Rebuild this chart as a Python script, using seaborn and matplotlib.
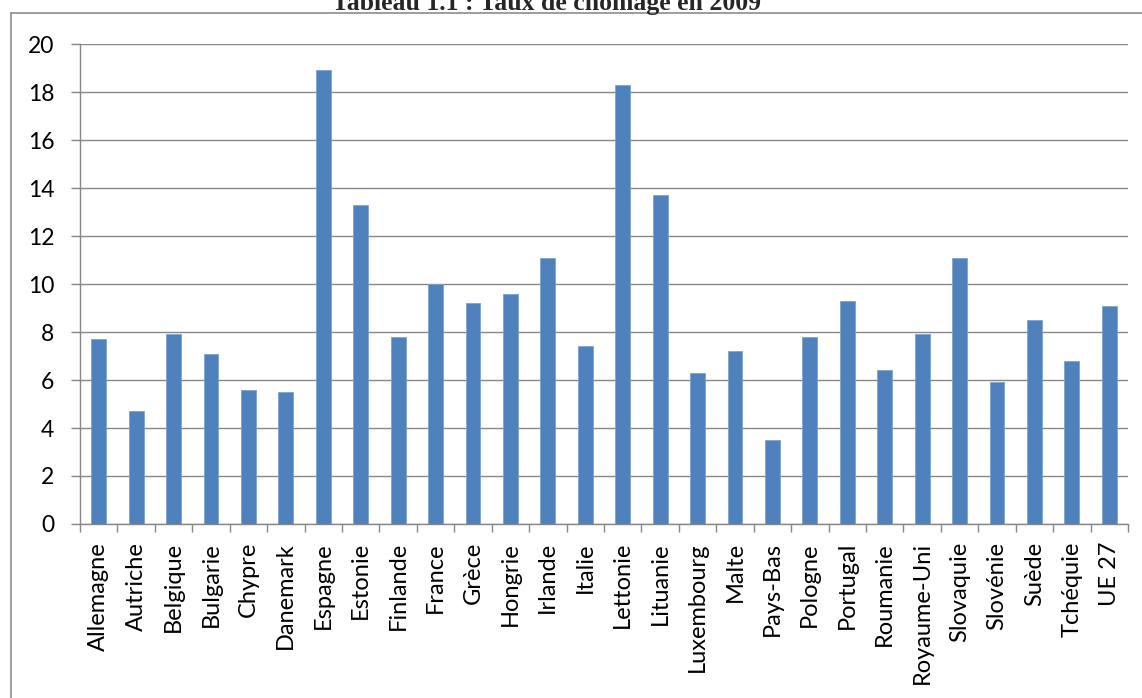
import matplotlib
matplotlib.use("Agg")
import matplotlib.pyplot as plt
from matplotlib.lines import Line2D
import seaborn as sns
import pandas as pd
import numpy as np

# Unemployment rate by country, 2009 (%)
pays = ["Allemagne", "Autriche", "Belgique", "Bulgarie", "Chypre", "Danemark",
        "Espagne", "Estonie", "Finlande", "France", "Grèce", "Hongrie", "Irlande",
        "Italie", "Lettonie", "Lituanie", "Luxembourg", "Malte", "Pays-Bas",
        "Pologne", "Portugal", "Roumanie", "Royaume-Uni", "Slovaquie", "Slovénie",
        "Suède", "Tchéquie", "UE 27"]
taux = [7.7, 4.7, 7.9, 7.1, 5.6, 5.5,
        18.9, 13.3, 7.8, 10.0, 9.2, 9.6, 11.1,
        7.4, 18.3, 13.7, 6.3, 7.2, 3.5,
        7.8, 9.3, 6.4, 7.9, 11.1, 5.9,
        8.5, 6.8, 9.1]
y_ticks = [0, 2, 4, 6, 8, 10, 12, 14, 16, 18, 20]
titre = "Tableau 1.1 : Taux de chômage en 2009"

df = pd.DataFrame({"pays": pays, "taux": taux})

sns.set_theme(style="white")
plt.rcParams["font.family"] = ["Lato", "DejaVu Sans"]

W, H = 1142, 698
fig = plt.figure(figsize=(W / 100, H / 100), dpi=100)
fig.patch.set_facecolor("white")

left, right, top, bottom = 80, 1128, 44, 524
ax = fig.add_axes([left / W, 1 - bottom / H, (right - left) / W, (bottom - top) / H])

grid_col = "#878787"
sns.barplot(data=df, x="pays", y="taux", color="#4F81BD", saturation=1,
            width=0.4, edgecolor="#7FA2CF", linewidth=0.6, ax=ax, zorder=3)

ax.set_ylim(0, 20)
ax.set_xlim(-0.5, len(pays) - 0.5)
ax.set_yticks(y_ticks)
ax.set_yticklabels([str(v) for v in y_ticks])
ax.yaxis.grid(True, color=grid_col, linewidth=1.0, zorder=0)
ax.set_axisbelow(True)
ax.set_xlabel("")
ax.set_ylabel("")

# category labels at bar centres, tick marks between categories
ax.set_xticks(np.arange(len(pays)))
ax.set_xticklabels(pays, rotation=90, fontsize=17, color="black")
ax.set_xticks(np.arange(len(pays) + 1) - 0.5, minor=True)
ax.tick_params(axis="x", which="major", length=0, pad=13)
ax.tick_params(axis="x", which="minor", length=6, width=1.0, color=grid_col, bottom=True)
ax.tick_params(axis="y", which="major", length=6.5, width=1.0, color=grid_col,
               pad=12, labelsize=16.5, labelcolor="black", left=True)

for side in ["top", "right"]:
    ax.spines[side].set_visible(False)
for side in ["left", "bottom"]:
    ax.spines[side].set_color(grid_col)
    ax.spines[side].set_linewidth(1.0)

# outer chart frame: top and left edges
fx, fy = 10.5 / W, 1 - 13 / H
fig.add_artist(Line2D([fx, 1.0], [fy, fy], transform=fig.transFigure,
                      color="#8c8c8c", linewidth=1.2))
fig.add_artist(Line2D([fx, fx], [0.0, fy], transform=fig.transFigure,
                      color="#8c8c8c", linewidth=1.2))

fig.text(546 / W, 1 - 10 / H, titre, ha="center", va="baseline",
         fontsize=18.5, fontweight="bold", family=["Liberation Serif", "DejaVu Serif"])

fig.savefig("out.png", dpi=100, facecolor="white")
